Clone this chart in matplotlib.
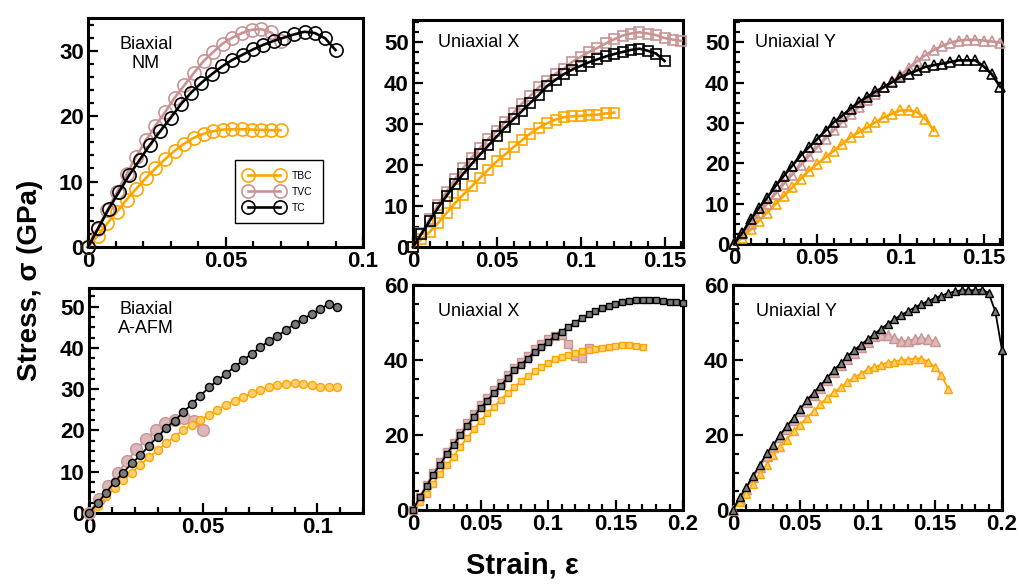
import numpy as np
import matplotlib
matplotlib.use("Agg")
import matplotlib.pyplot as plt
from matplotlib.ticker import MultipleLocator, FuncFormatter

plt.rcParams['font.family'] = ['Liberation Sans', 'DejaVu Sans']

ORANGE = '#ffa500'
ROSY = '#c99393'
BLACK = '#000000'

# common strain grid (step 0.005)
strain = [0, 0.005, 0.01, 0.015, 0.02, 0.025, 0.03, 0.035, 0.04, 0.045,
          0.05, 0.055, 0.06, 0.065, 0.07, 0.075, 0.08, 0.085, 0.09, 0.095,
          0.1, 0.105, 0.11, 0.115, 0.12, 0.125, 0.13, 0.135, 0.14, 0.145,
          0.15, 0.155, 0.16, 0.165, 0.17, 0.175, 0.18, 0.185, 0.19, 0.195, 0.2]

# --- Biaxial NM (top left)
nm_tc_x = [0, 0.00375, 0.0075, 0.01125, 0.015, 0.01875, 0.0225, 0.02625, 0.03,
           0.03375, 0.0375, 0.04125, 0.045, 0.04875, 0.0525, 0.05625, 0.06,
           0.06375, 0.0675, 0.07125, 0.075, 0.07875, 0.0825, 0.08625, 0.09]
nm_tc = [0, 2.9, 5.8, 8.4, 11.0, 13.3, 15.6, 17.7, 19.7, 21.8, 23.6, 25.1, 26.4,
         27.6, 28.6, 29.4, 30.2, 30.9, 31.5, 32.0, 32.5, 32.9, 32.7, 31.9, 30.1]
nm_x = [0, 0.0035, 0.007, 0.0105, 0.014, 0.0175, 0.021, 0.0245, 0.028, 0.0315,
        0.035, 0.0385, 0.042, 0.0455, 0.049, 0.0525, 0.056, 0.0595, 0.063,
        0.0665, 0.07]
nm_tvc = [0, 2.7, 5.6, 8.4, 11.1, 13.8, 16.3, 18.5, 20.6, 22.8, 24.7, 26.6,
          28.4, 29.8, 31.1, 32.0, 32.7, 33.2, 33.3, 32.8, 31.5]
nm_tbc = [0, 1.7, 3.6, 5.4, 7.2, 8.9, 10.5, 12.0, 13.4, 14.7, 15.8, 16.7, 17.3,
          17.7, 17.95, 18.0, 18.0, 17.95, 17.9, 17.85, 17.85]

# --- Uniaxial X (top middle)
ux_tc = [0, 3.2, 6.4, 9.6, 12.5, 15.3, 17.9, 20.3, 22.6, 24.8, 27.0, 29.2,
         31.2, 33.2, 35.2, 37.1, 39.3, 40.8, 42.2, 43.3, 44.2, 45.1, 45.8,
         46.5, 47.1, 47.6, 48.1, 48.4, 47.9, 47.2, 45.4]
ux_tvc = [0, 3.4, 6.9, 10.3, 13.5, 16.5, 19.3, 21.8, 24.2, 26.4, 28.4, 30.6,
          32.8, 35.0, 36.9, 39.0, 40.6, 42.3, 43.5, 45.2, 46.4, 47.6, 48.6,
          49.7, 50.7, 51.6, 52.1, 52.4, 52.1, 51.7, 51.0, 50.6, 50.3]
ux_tbc = [0, 1.9, 3.7, 5.9, 8.3, 10.7, 12.8, 14.8, 16.9, 18.9, 20.9, 22.6,
          24.4, 26.1, 27.7, 29.1, 30.2, 31.1, 31.7, 31.9, 32.0, 32.2, 32.3,
          32.6, 32.8]

# --- Uniaxial Y (top right)
uy_tc = [0, 2.8, 6.1, 9.0, 11.5, 14.4, 16.9, 19.4, 21.9, 24.0, 26.0, 28.1,
         30.2, 31.8, 33.5, 35.2, 36.4, 37.8, 38.9, 40.1, 41.4, 42.2, 43.0,
         43.9, 44.3, 44.7, 45.1, 45.5, 45.5, 45.5, 44.0, 42.0, 38.9]
uy_tvc = [0, 2.4, 5.0, 7.6, 10.0, 12.5, 14.9, 17.2, 19.5, 21.8, 24.0, 26.1,
          28.2, 30.2, 32.1, 33.9, 35.6, 37.2, 38.8, 40.3, 41.8, 43.6, 45.3,
          46.8, 48.1, 49.1, 49.9, 50.4, 50.6, 50.6, 50.4, 50.2, 49.9]
uy_tbc = [0, 1.6, 3.6, 5.7, 7.8, 9.9, 11.9, 14.0, 16.1, 18.2, 19.8, 21.5,
          23.1, 24.8, 26.5, 27.7, 28.9, 30.2, 31.4, 32.3, 33.1, 33.1, 32.7,
          31.0, 28.1]

# --- Biaxial A-AFM (bottom left)
af_x = [0, 0.00375, 0.0075, 0.01125, 0.015, 0.01875, 0.0225, 0.02625, 0.03,
        0.03375, 0.0375, 0.04125, 0.045, 0.04875, 0.0525, 0.05625, 0.06,
        0.06375, 0.0675, 0.07125, 0.075, 0.07875, 0.0825, 0.08625, 0.09,
        0.09375, 0.0975, 0.10125, 0.105, 0.10875]
af_tc = [0, 2.4, 4.9, 7.6, 9.8, 12.0, 14.0, 16.3, 18.4, 20.6, 22.4, 24.4, 26.4,
         28.4, 30.4, 32.1, 33.7, 35.4, 37.0, 38.6, 40.1, 41.7, 42.9, 44.3,
         45.8, 47.0, 48.2, 49.4, 50.6, 50.0]
af_tbc = [0, 1.6, 4.0, 6.0, 8.0, 9.8, 11.7, 13.5, 15.2, 16.9, 18.5, 20.1, 21.4,
          22.6, 23.8, 25.0, 26.2, 27.2, 28.2, 29.0, 29.8, 30.4, 30.9, 31.2,
          31.4, 31.2, 30.9, 30.6, 30.4, 30.5]
af_tvc_x = [0, 0.0042, 0.0083, 0.0125, 0.0167, 0.0208, 0.025, 0.0292, 0.0333,
            0.0375, 0.0417, 0.0458, 0.05]
af_tvc = [0, 3.3, 6.6, 9.7, 12.6, 15.4, 17.9, 20.0, 21.7, 22.6, 22.9, 22.3,
          20.0]

# --- Uniaxial X A-AFM (bottom middle)
ax2_tc = [0, 3.4, 6.3, 9.4, 12.1, 14.9, 17.4, 19.9, 22.4, 24.8, 27.2, 29.2,
          31.2, 33.2, 35.2, 37.3, 38.8, 40.4, 42.2, 43.5, 44.8, 46.3, 47.6,
          48.9, 50.0, 51.1, 52.2, 53.0, 53.8, 54.5, 55.0, 55.4, 55.7, 55.9,
          55.9, 55.9, 55.9, 55.8, 55.6, 55.4, 55.2]
ax2_tvc = [0, 3.6, 6.8, 9.9, 12.7, 15.5, 18.0, 20.6, 23.1, 25.5, 27.9, 30.0,
           32.0, 34.0, 36.0, 38.0, 39.6, 41.2, 42.9, 44.2, 45.5, 46.5, 46.8,
           44.3, 41.0, 40.5, 43.2]
ax2_tbc = [0, 2.1, 4.3, 7.0, 9.7, 11.9, 14.2, 16.9, 19.1, 21.5, 23.7, 25.8,
           27.6, 29.4, 31.2, 32.8, 34.3, 35.7, 37.0, 38.2, 39.3, 40.2, 40.9,
           41.4, 42.0, 42.4, 42.7, 43.0, 43.3, 43.6, 43.8, 43.9, 43.9, 43.8,
           43.5]

# --- Uniaxial Y A-AFM (bottom right)
ay2_tc = [0, 3.4, 6.1, 9.2, 12.0, 15.1, 17.4, 20.1, 22.3, 24.6, 27.0, 29.3,
          31.3, 33.2, 35.3, 37.3, 39.1, 41.0, 42.6, 44.0, 45.5, 46.9, 48.3,
          49.6, 50.9, 52.0, 53.0, 54.0, 54.9, 55.7, 56.5, 57.2, 57.8, 58.3,
          58.6, 58.6, 58.6, 58.8, 57.9, 53.0, 42.6]
ay2_tvc = [0, 3.0, 5.7, 8.7, 11.5, 14.5, 16.9, 19.5, 21.7, 24.0, 26.4, 28.7,
           30.7, 32.6, 34.7, 36.7, 38.6, 40.4, 42.0, 43.4, 44.8, 46.3, 46.8,
           46.6, 45.9, 45.2, 45.1, 45.6, 45.8, 45.6, 45.0]
ay2_tbc = [0, 2.1, 4.3, 7.0, 9.7, 12.0, 14.7, 16.9, 18.7, 21.0, 22.8, 24.6,
           26.4, 28.2, 30.0, 31.4, 32.7, 34.1, 35.4, 36.3, 37.5, 38.1, 38.7,
           39.3, 39.6, 39.9, 40.1, 40.4, 40.4, 39.6, 38.2, 35.9, 32.3]

W, H = 1019, 586


def px_axes(fig, left, right, top, bottom):
    return fig.add_axes([left / W, 1 - bottom / H, (right - left) / W, (bottom - top) / H])


def style_axes(ax, xlim, ylim, xmaj, xmin, ymaj, ymin):
    ax.set_xlim(*xlim)
    ax.set_ylim(*ylim)
    ax.xaxis.set_major_locator(MultipleLocator(xmaj))
    ax.xaxis.set_minor_locator(MultipleLocator(xmin))
    ax.yaxis.set_major_locator(MultipleLocator(ymaj))
    ax.yaxis.set_minor_locator(MultipleLocator(ymin))
    fmt = FuncFormatter(lambda v, p: '%g' % round(v, 4))
    ax.xaxis.set_major_formatter(fmt)
    ax.yaxis.set_major_formatter(fmt)
    ax.tick_params(which='both', direction='in', top=False, right=False, width=1.6)
    ax.tick_params(which='major', length=7, labelsize=16, pad=3)
    ax.tick_params(which='minor', length=4)
    for lab in ax.get_xticklabels() + ax.get_yticklabels():
        lab.set_fontweight('bold')
    for s in ax.spines.values():
        s.set_linewidth(2.2)


def open_line(ax, x, y, color, marker, ms, label=None):
    ax.plot(x, y, color=color, lw=1.9, marker=marker, ms=ms, mfc='none',
            mec=color, mew=1.2, clip_on=False, label=label, zorder=3)


def filled_line(ax, x, y, color, face, marker, ms, lw=1.3):
    ax.plot(x, y, color=color, lw=lw, marker=marker, ms=ms, mfc=face,
            mec=color, mew=1.0, clip_on=False, zorder=3)


fig = plt.figure(figsize=(W / 100, H / 100), dpi=100)

# top left
ax1 = px_axes(fig, 88, 363, 18, 247)
open_line(ax1, nm_x, nm_tbc, ORANGE, 'o', 9.5, 'TBC')
open_line(ax1, nm_x, nm_tvc, ROSY, 'o', 9.5, 'TVC')
open_line(ax1, nm_tc_x, nm_tc, BLACK, 'o', 9.5, 'TC')
style_axes(ax1, (0, 0.1), (0, 35), 0.05, 0.01, 10, 2)
ax1.text(0.21, 0.92, 'Biaxial\nNM', transform=ax1.transAxes, ha='center',
         va='top', fontsize=13, multialignment='center', linespacing=1.1)
leg = ax1.legend(loc='lower left', bbox_to_anchor=(0.515, 0.08), fontsize=7.5,
                 numpoints=2, handlelength=3.6, handletextpad=0.9,
                 borderpad=1.0, labelspacing=0.6, fancybox=False,
                 edgecolor='black', framealpha=1)
leg.get_frame().set_linewidth(1.0)

# top middle
ax2 = px_axes(fig, 413, 683, 20, 247)
open_line(ax2, strain[:len(ux_tbc)], ux_tbc, ORANGE, 's', 7)
open_line(ax2, strain[:len(ux_tvc)], ux_tvc, ROSY, 's', 7)
open_line(ax2, strain[:len(ux_tc)], ux_tc, BLACK, 's', 7)
style_axes(ax2, (0, 0.161), (0, 55.4), 0.05, 0.01, 10, 2.5)
ax2.text(0.093, 0.9, 'Uniaxial X', transform=ax2.transAxes, ha='left',
         va='center', fontsize=13)

# top right
ax3 = px_axes(fig, 734, 1002, 20, 244)
open_line(ax3, strain[:len(uy_tbc)], uy_tbc, ORANGE, '^', 7.5)
open_line(ax3, strain[:len(uy_tvc)], uy_tvc, ROSY, '^', 7.5)
open_line(ax3, strain[:len(uy_tc)], uy_tc, BLACK, '^', 7.5)
style_axes(ax3, (0, 0.161), (0, 55.5), 0.05, 0.01, 10, 2.5)
ax3.text(0.078, 0.9, 'Uniaxial Y', transform=ax3.transAxes, ha='left',
         va='center', fontsize=13)

# bottom left
ax4 = px_axes(fig, 89, 363, 288, 513)
filled_line(ax4, af_tvc_x, af_tvc, ROSY, '#dcb8b8', 'o', 8.5)
filled_line(ax4, af_x, af_tbc, ORANGE, '#ffcf73', 'o', 5.8)
filled_line(ax4, af_x, af_tc, BLACK, '#7a7a7a', 'o', 5.8)
style_axes(ax4, (0, 0.12), (0, 54.5), 0.05, 0.01, 10, 2.5)
ax4.text(0.208, 0.94, 'Biaxial\nA-AFM', transform=ax4.transAxes, ha='center',
         va='top', fontsize=13, multialignment='center', linespacing=1.1)

# bottom middle
ax5 = px_axes(fig, 413, 683, 285, 510)
filled_line(ax5, strain[:len(ax2_tvc)], ax2_tvc, ROSY, '#dcb8b8', 's', 6)
filled_line(ax5, strain[:len(ax2_tbc)], ax2_tbc, ORANGE, '#ffcf73', 's', 5)
filled_line(ax5, strain[:len(ax2_tc)], ax2_tc, BLACK, '#7a7a7a', 's', 5)
style_axes(ax5, (0, 0.2), (0, 60), 0.05, 0.01, 20, 5)
ax5.text(0.093, 0.88, 'Uniaxial X', transform=ax5.transAxes, ha='left',
         va='center', fontsize=13)

# bottom right
ax6 = px_axes(fig, 733, 1002, 285, 510)
filled_line(ax6, strain[:len(ay2_tvc)], ay2_tvc, ROSY, '#dcb8b8', '^', 6.5)
filled_line(ax6, strain[:len(ay2_tbc)], ay2_tbc, ORANGE, '#ffcf73', '^', 5.5)
filled_line(ax6, strain[:len(ay2_tc)], ay2_tc, BLACK, '#7a7a7a', '^', 5.5)
style_axes(ax6, (0, 0.2), (0, 60), 0.05, 0.01, 20, 5)
ax6.text(0.085, 0.88, 'Uniaxial Y', transform=ax6.transAxes, ha='left',
         va='center', fontsize=13)

fig.text(30 / W, 1 - 280 / H, 'Stress, σ (GPa)', rotation=90, ha='center',
         va='center', fontsize=20, fontweight='bold')
fig.text(522 / W, 1 - 566 / H, 'Strain, ε', ha='center', va='center',
         fontsize=21, fontweight='bold')

fig.savefig('out.png', dpi=100)
